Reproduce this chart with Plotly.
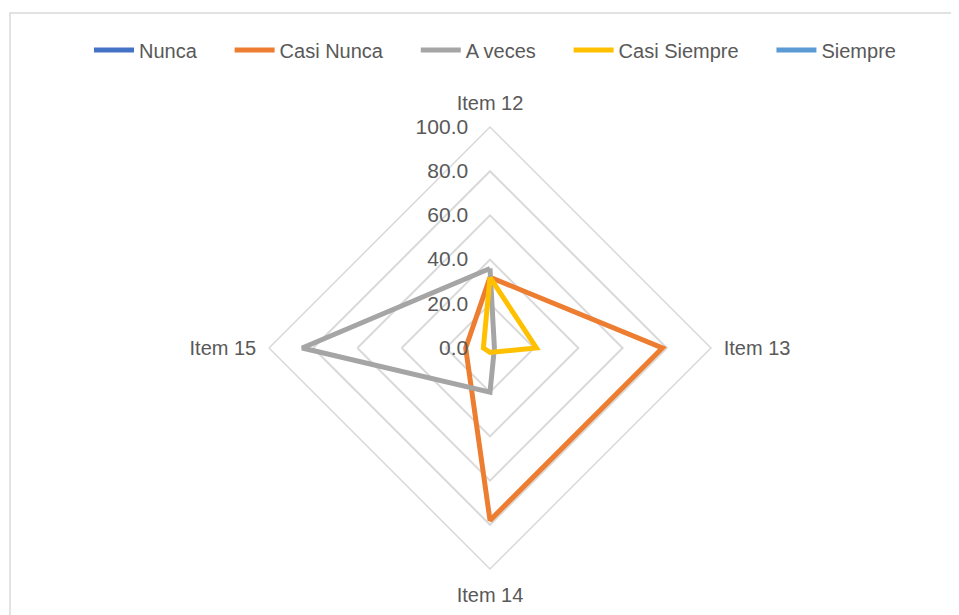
import plotly.graph_objects as go

categories = ["Item 12", "Item 13", "Item 14", "Item 15"]
series_names = ["Nunca", "Casi Nunca", "A veces", "Casi Siempre", "Siempre"]
nunca = [0, 0, 0, 0]
casi_nunca = [32, 78, 78, 11]
a_veces = [36, 2, 20, 85]
casi_siempre = [32, 21, 2, 3]
siempre = [0, 0, 0, 0]
radial_ticks = [0, 20, 40, 60, 80, 100]

colors = ["#4472C4", "#ED7D31", "#A5A5A5", "#FFC000", "#5B9BD5"]
values = [nunca, casi_nunca, a_veces, casi_siempre, siempre]

W, H = 959, 615
OFF = 8  # page body margin
cx, cy, R = 490 - OFF, 348 - OFF, 221

fig = go.Figure()
for i, (name, vals, col) in enumerate(zip(series_names, values, colors)):
    pad = "\u00a0" * 5 if i < len(series_names) - 1 else ""
    fig.add_trace(go.Scatterpolar(
        r=vals + vals[:1], theta=categories + categories[:1],
        mode="lines", name=name + pad,
        line=dict(color=col, width=5),
        legendgroup=name, hoverinfo="skip"))
# center dot for zero-valued Siempre series (Excel draws a round cap)
fig.add_trace(go.Scatterpolar(
    r=siempre[:1], theta=categories[:1], mode="markers",
    marker=dict(color=colors[4], size=6), showlegend=False,
    legendgroup="Siempre", hoverinfo="skip"))

font_color = "#595959"
fam = "Liberation Sans, Arial, sans-serif"
fig.update_layout(
    width=W, height=H,
    margin=dict(l=0, r=0, t=0, b=0),
    paper_bgcolor="white",
    font=dict(family=fam, color=font_color, size=20),
    showlegend=True,
    legend=dict(orientation="h", x=(495 - OFF) / W, xanchor="center",
                y=1 - (50 - OFF) / H, yanchor="middle",
                font=dict(size=20, color=font_color), itemwidth=40,
                traceorder="normal"),
    polar=dict(
        domain=dict(x=[(cx - R) / W, (cx + R) / W], y=[1 - (cy + R) / H, 1 - (cy - R) / H]),
        bgcolor="white",
        gridshape="linear",
        radialaxis=dict(range=[0, 100], tickvals=radial_ticks, tickformat=".1f",
                        angle=90, tickangle=90, side="counterclockwise",
                        showline=False, ticks="outside", ticklen=14,
                        tickcolor="rgba(0,0,0,0)",
                        gridcolor="#D9D9D9", gridwidth=1.5,
                        tickfont=dict(size=21, color=font_color)),
        angularaxis=dict(rotation=90, direction="clockwise", showgrid=False,
                         showline=True, linecolor="#D9D9D9", linewidth=1.5,
                         ticks="outside", ticklen=8, tickcolor="rgba(0,0,0,0)",
                         tickfont=dict(size=20, color=font_color)),
    ),
    shapes=[dict(type="rect", xref="paper", yref="paper",
                 x0=(10 - OFF) / W, x1=1.2, y0=-0.2, y1=1 - (13 - OFF) / H,
                 line=dict(color="#D9D9D9", width=1.5), fillcolor="rgba(0,0,0,0)")],
)

fig.write_html("out.html")
